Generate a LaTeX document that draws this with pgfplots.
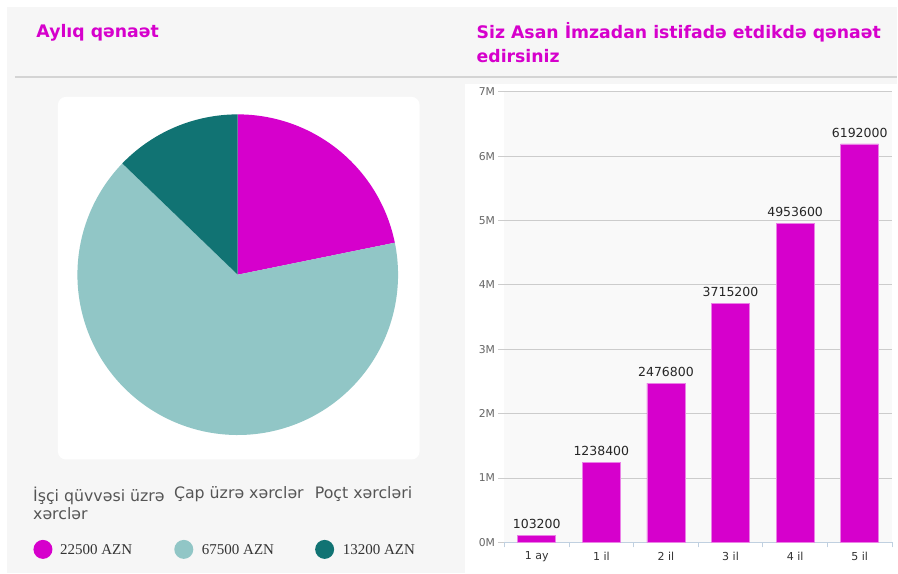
\documentclass[border=0pt]{standalone}
\usepackage{fontspec}
\setmainfont{DejaVu Sans}
\newfontfamily\serifv{Liberation Serif}
\usepackage{pgfplots}
\pgfplotsset{compat=1.18}
\definecolor{bgc}{RGB}{246,246,246}
\definecolor{mag}{RGB}{214,0,204}
\definecolor{lteal}{RGB}{145,198,198}
\definecolor{dteal}{RGB}{17,115,115}
\definecolor{gridc}{RGB}{204,204,204}
\definecolor{axc}{RGB}{192,208,224}
\definecolor{plotbg}{RGB}{249,249,249}
\definecolor{txt}{RGB}{85,85,85}
\begin{document}
\begin{tikzpicture}[x=1pt,y=1pt]
% canvas
\fill[bgc] (0,0) rectangle (898,574);
\fill[white] (0,567) rectangle (898,574);
\fill[white] (0,0) rectangle (7,574);
\draw[gridc!90!black!60!white, line width=2pt] (15,497) -- (898,497);
% titles
\node[anchor=west, text=mag, font=\fontsize{17.3}{20}\selectfont\bfseries] at (33,541) {Aylıq qənaət};
\node[anchor=north west, text=mag, font=\fontsize{17.3}{24}\selectfont\bfseries, align=left, inner sep=0pt] at (477,552) {Siz Asan İmzadan istifadə etdikdə qənaət\\edirsiniz};
% pie panel
\fill[white, rounded corners=8pt] (58,114) rectangle (420,477);
% bar panel
\fill[white] (466,0) rectangle (898,490);
% pie
\def\va{22500}\def\vb{67500}\def\vc{13200}
\edef\aA{\fpeval{90-360*\va/(\va+\vb+\vc)}}
\edef\aB{\fpeval{90-360*(\va+\vb)/(\va+\vb+\vc)}}
\begin{axis}[at={(238pt,299pt)}, anchor=center, scale only axis, width=321pt, height=321pt,
  xmin=-1, xmax=1, ymin=-1, ymax=1, hide axis, clip=false]
\addplot[fill=mag, draw=none, domain=\aA:90, samples=80, variable=\t] ({cos(\t)},{sin(\t)}) -- (0,0) -- cycle;
\addplot[fill=lteal, draw=none, domain=\aB:\aA, samples=160, variable=\t] ({cos(\t)},{sin(\t)}) -- (0,0) -- cycle;
\addplot[fill=dteal, draw=none, domain=-270:\aB, samples=60, variable=\t] ({cos(\t)},{sin(\t)}) -- (0,0) -- cycle;
\end{axis}
% legend
\node[anchor=north west, text=txt, font=\fontsize{15.8}{18.5}\selectfont, align=left, inner sep=0pt] at (33,87) {İşçi qüvvəsi üzrə\\xərclər};
\node[anchor=north west, text=txt, font=\fontsize{15.8}{18.5}\selectfont, align=left, inner sep=0pt] at (174,87) {Çap üzrə xərclər};
\node[anchor=north west, text=txt, font=\fontsize{15.8}{18.5}\selectfont, align=left, inner sep=0pt] at (315,87) {Poçt xərcləri};
\fill[mag] (43,24) circle (9.5);
\fill[lteal] (184,24) circle (9.5);
\fill[dteal] (325,24) circle (9.5);
\node[anchor=west, text=black!80, font=\serifv\fontsize{15}{18}\selectfont, inner sep=0pt] at (60,24) {22500 AZN};
\node[anchor=west, text=black!80, font=\serifv\fontsize{15}{18}\selectfont, inner sep=0pt] at (202,24) {67500 AZN};
\node[anchor=west, text=black!80, font=\serifv\fontsize{15}{18}\selectfont, inner sep=0pt] at (343,24) {13200 AZN};
% bar chart
\begin{axis}[at={(505pt,31pt)}, anchor=south west, scale only axis, width=388pt, height=451pt,
  xmin=-0.5, xmax=5.5, ymin=0, ymax=7000000,
  scaled y ticks=false,
  axis background/.style={fill=plotbg},
  axis x line*=bottom, axis y line*=left,
  x axis line style={draw=axc, line width=1pt},
  y axis line style={draw=none},
  xtick={0,1,2,3,4,5},
  xticklabels={1 ay,1 il,2 il,3 il,4 il,5 il},
  xtick style={draw=none},
  minor xtick={-0.5,0.5,1.5,2.5,3.5,4.5,5.5},
  minor x tick style={draw=axc, line width=1pt},
  minor tick length=5pt,
  ytick={0,1000000,2000000,3000000,4000000,5000000,6000000,7000000},
  yticklabels={0M,1M,2M,3M,4M,5M,6M,7M},
  ytick style={draw=gridc, line width=1pt},
  major tick length=6pt,
  tick align=outside,
  ymajorgrids, grid style={draw=gridc, line width=1pt},
  yticklabel style={font=\fontsize{10.8}{12}\selectfont, text=black!60},
  xticklabel style={font=\fontsize{11}{13}\selectfont, text=black!80},
  ybar, bar width=38pt,
  point meta=explicit symbolic,
  nodes near coords,
  nodes near coords style={font=\fontsize{12.5}{14}\selectfont, text=black!85, yshift=3pt},
  clip=false]
\addplot[fill=mag, draw=mag!50!white, line width=0.6pt] coordinates {
 (0,103200) [103200]
 (1,1238400) [1238400]
 (2,2476800) [2476800]
 (3,3715200) [3715200]
 (4,4953600) [4953600]
 (5,6192000) [6192000]
};
\end{axis}
\end{tikzpicture}
\end{document}
